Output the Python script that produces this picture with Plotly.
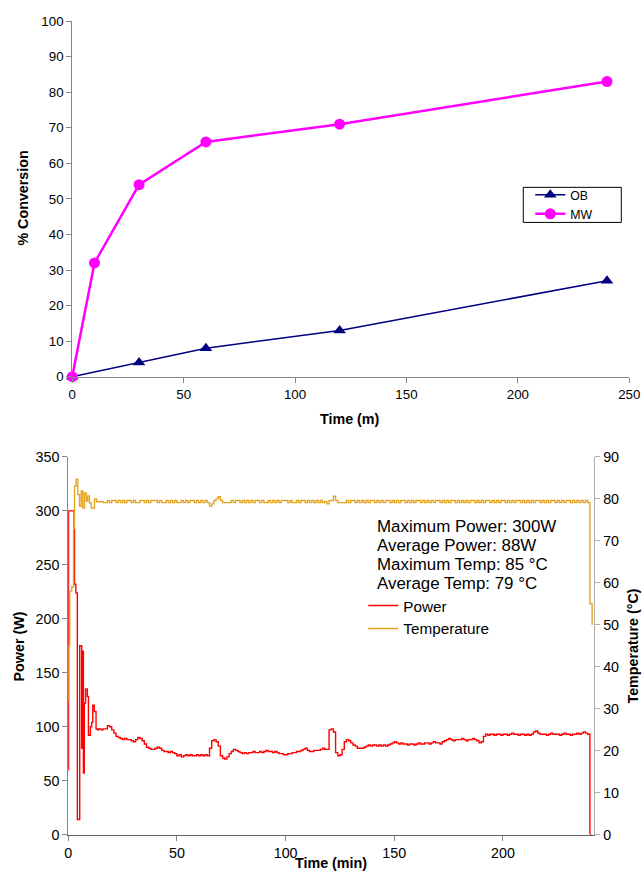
import plotly.graph_objects as go

# ---------------- Top chart data ----------------
ob_time = [0, 30, 60, 120, 240]
ob_conv = [0, 4, 8, 13, 27]
mw_time = [0, 10, 30, 60, 120, 240]
mw_conv = [0, 32, 54, 66, 71, 83]
top_x_ticks = [0, 50, 100, 150, 200, 250]
top_y_ticks = [0, 10, 20, 30, 40, 50, 60, 70, 80, 90, 100]

# ---------------- Bottom chart data ----------------
# start-up transient (min, W)
power_early_t = [0, 0.15, 2.7, 2.9, 3.5, 4.2, 5.3, 6.2, 6.5, 7.0, 7.4, 8.0, 8.8, 9.3, 10.2, 10.8, 11.3, 12.0, 12.8, 13.4]
power_early = [60, 300, 283, 232, 224, 14, 175, 80, 170, 57, 122, 135, 128, 92, 100, 104, 120, 114, 98, 97]
# one reading per minute from 14 min to 241 min (W)
power_per_min = [
    98, 97, 98, 98, 101, 100,
    97, 94, 91, 90, 89,
    88, 89, 88, 88, 87, 86, 88,
    90, 89, 87,
    84, 81, 80, 79, 79,
    80, 81, 80, 78, 77,
    77, 76, 77, 76, 75,
    73, 74, 72, 73, 74, 73, 74, 73, 73, 74, 73, 74, 73, 74, 73,
    80, 87, 88, 86, 82,
    73, 71, 70, 72, 75,
    77, 79, 78, 77, 76,
    75, 76, 75, 76, 76, 77, 76, 76, 77, 76,
    77, 78, 77, 77, 76, 77, 76, 75, 75, 74,
    74, 75, 75, 76, 76, 77, 77, 78, 79, 80,
    78, 77, 77, 78, 78, 78, 79, 80, 79, 79,
    97, 98, 95,
    76, 73, 74, 79, 86,
    88, 87, 85, 83, 82, 80, 80,
    80, 81, 82, 83, 82, 83, 83, 82, 83, 82,
    83, 82, 83, 84, 85, 86, 85, 84, 85, 84,
    84, 83, 84, 84, 83, 84, 85, 84, 84, 85,
    85, 84, 85, 86, 85, 85, 84, 86, 87, 88,
    89, 88, 87, 88, 88, 88, 89, 88, 87, 88,
    88, 89, 88, 87, 85, 86,
    91, 93, 92, 93, 93, 92, 93, 93, 92, 93,
    93, 92, 93, 94, 93, 93, 92, 93, 93, 92,
    93, 92, 93, 95, 96, 94, 93, 93, 93, 92,
    93, 94, 93, 93, 93, 92, 93, 94, 93, 93,
    92, 93, 93, 94, 93, 94, 95, 94, 93,
    0, 0,
]

temp_early_t = [0, 0.3, 0.7, 1.6, 2.45, 2.9, 3.6, 4.4, 5.2, 6.0, 6.7, 7.5, 8.3, 9.0, 9.8, 10.6, 11.3, 12.1, 13.0]
temp_early = [32, 45, 58, 59, 73, 83, 84.7, 81, 78.3, 81.9, 77.8, 81.4, 79.5, 80.7, 79.0, 77.8, 77.8, 80.0, 79.3]
# one reading per minute from 14 min to 241 min (deg C)
temp_per_min = [
    79.3, 79.3, 79.1, 79.1, 79.6, 79.1, 79.6, 79.6, 79.1, 79.6,
    79.1, 79.6, 79.1, 79.6, 79.6, 79.1, 79.6, 79.1, 79.1, 79.6,
    79.6, 79.1, 79.6, 79.1, 79.6, 79.6, 79.6, 79.1, 79.6, 79.1,
    79.1, 79.6, 79.1, 79.6, 79.1, 79.6, 79.1, 79.1, 79.6, 79.1,
    79.6, 79.1, 79.6, 79.6, 79.1, 79.6, 79.1, 79.6, 79.1, 79.6,
    79.1, 78.3, 78.8, 79.6, 80.0, 80.5, 79.6, 79.1, 79.1, 79.1,
    79.1, 79.6, 79.1, 79.6, 79.6, 79.1, 79.6, 79.1, 79.6, 79.1,
    79.6, 79.1, 79.6, 79.6, 79.1, 79.6, 79.1, 79.1, 79.6, 79.1,
    79.6, 79.1, 79.6, 79.1, 79.6, 79.6, 79.6, 79.1, 79.6, 79.1,
    79.1, 79.6, 79.1, 79.6, 79.6, 79.1, 79.6, 79.1, 79.6, 79.1,
    79.6, 79.1, 79.6, 79.1, 79.3, 78.8, 79.6, 79.6, 80.6, 79.6,
    79.1, 79.1, 79.1, 79.1, 79.6, 79.1, 79.6, 79.6, 79.1, 79.6,
    79.1, 79.6, 79.1, 79.6, 79.1, 79.6, 79.6, 79.1, 79.6, 79.1,
    79.6, 79.1, 79.6, 79.6, 79.1, 79.6, 79.1, 79.6, 79.1, 79.6,
    79.6, 79.1, 79.6, 79.1, 79.6, 79.1, 79.6, 79.6, 79.1, 79.6,
    79.1, 79.6, 79.1, 79.6, 79.1, 79.6, 79.6, 79.1, 79.6, 79.1,
    79.6, 79.1, 79.6, 79.6, 79.1, 79.6, 79.1, 79.6, 79.1, 79.6,
    79.1, 79.6, 79.6, 79.1, 79.6, 79.1, 79.6, 79.1, 79.6, 79.6,
    79.1, 79.6, 79.1, 79.6, 79.1, 79.6, 79.6, 79.1, 79.6, 79.1,
    79.6, 79.1, 79.6, 79.6, 79.1, 79.6, 79.1, 79.6, 79.1, 79.6,
    79.1, 79.6, 79.6, 79.1, 79.6, 79.1, 79.6, 79.1, 79.6, 79.6,
    79.1, 79.6, 79.1, 79.6, 79.1, 79.6, 79.6, 79.1, 79.6, 79.1,
    79.6, 79.1, 79.6, 79.1, 79.6, 79.1,
    55, 50,
]

bottom_x_ticks = [0, 50, 100, 150, 200]
power_ticks = [0, 50, 100, 150, 200, 250, 300, 350]
temp_ticks = [0, 10, 20, 30, 40, 50, 60, 70, 80, 90]

stats_lines = ["Maximum Power: 300W", "Average Power: 88W",
               "Maximum Temp: 85 \u00b0C", "Average Temp: 79 \u00b0C"]

power_t = power_early_t + list(range(14, 14 + len(power_per_min)))
power_w = power_early + power_per_min
temp_t = temp_early_t + list(range(14, 14 + len(temp_per_min)))
temp_c = temp_early + temp_per_min

# ---------------- Figure geometry ----------------
# The photographed page shows the figure slightly inset and scaled; target
# positions (in the 642x872 picture) are mapped back to figure pixels.
OX, SX = 2.8, 0.977
OY, SY = 8.0, 0.980
W = 656
H = 884
FS = 1.0 / 0.979  # font compensation
FONT = "Liberation Sans, Arial, sans-serif"


def px(x):
    return ((x - OX) / SX) / W


def py(y):
    return 1 - ((y - OY) / SY) / H


def fs(s):
    return round(s * FS, 1)


fig = go.Figure()

fig.add_trace(go.Scatter(
    x=ob_time, y=ob_conv, name="OB", mode="lines+markers",
    line=dict(color="#000080", width=1.5),
    marker=dict(symbol="triangle-up", size=11, color="#000080"),
    xaxis="x", yaxis="y", legend="legend", cliponaxis=False))
fig.add_trace(go.Scatter(
    x=mw_time, y=mw_conv, name="MW", mode="lines+markers",
    line=dict(color="#FF00FF", width=2.5),
    marker=dict(symbol="circle", size=11, color="#FF00FF"),
    xaxis="x", yaxis="y", legend="legend", cliponaxis=False))

fig.add_trace(go.Scatter(
    x=power_t, y=power_w, name="Power", mode="lines",
    line=dict(color="#FF0000", width=1.4, shape="hv"),
    xaxis="x2", yaxis="y2", legend="legend2"))
fig.add_trace(go.Scatter(
    x=temp_t, y=temp_c, name="Temperature", mode="lines",
    line=dict(color="#E6A520", width=1.4, shape="hv"),
    xaxis="x2", yaxis="y3", legend="legend2"))

axis_common = dict(showgrid=False, zeroline=False, showline=True,
                   linecolor="#868686", linewidth=1, ticks="outside",
                   ticklen=5, tickcolor="#868686",
                   tickfont=dict(family=FONT, size=fs(13), color="#000000"))

fig.update_layout(
    width=W, height=H,
    margin=dict(l=0, r=0, t=0, b=0),
    paper_bgcolor="white", plot_bgcolor="white",
    font=dict(family=FONT, color="#000000"),
    xaxis=dict(axis_common, domain=[px(71), px(628)], anchor="y",
               range=[0, 250], tickvals=top_x_ticks),
    yaxis=dict(axis_common, domain=[py(376), py(21)], anchor="x",
               range=[0, 100], tickvals=top_y_ticks),
    xaxis2=dict(axis_common, domain=[px(67), px(593)], anchor="y2",
                range=[0, 242], tickvals=bottom_x_ticks,
                linecolor="#606060",
                tickfont=dict(family=FONT, size=fs(14), color="#000000")),
    yaxis2=dict(axis_common, domain=[py(833), py(456)], anchor="x2",
                range=[0, 350], tickvals=power_ticks,
                tickfont=dict(family=FONT, size=fs(14), color="#000000")),
    yaxis3=dict(axis_common, overlaying="y2", side="right", anchor="x2",
                range=[0, 90], tickvals=temp_ticks, linecolor="#B0B0B0",
                tickcolor="#B0B0B0",
                tickfont=dict(family=FONT, size=fs(14), color="#000000")),
    legend=dict(x=px(529), y=py(180), xanchor="left", yanchor="top",
                bgcolor="rgba(0,0,0,0)", borderwidth=0,
                font=dict(family=FONT, size=fs(12), color="#000000"),
                tracegroupgap=0),
    legend2=dict(x=px(362), y=py(588), xanchor="left", yanchor="top",
                 bgcolor="rgba(0,0,0,0)", borderwidth=0,
                 font=dict(family=FONT, size=fs(15), color="#000000"),
                 tracegroupgap=0),
    shapes=[dict(type="rect", xref="paper", yref="paper",
                 x0=px(522), x1=px(620), y0=py(222), y1=py(187),
                 line=dict(color="#000000", width=1))],
)

annots = [
    dict(text="<b>% Conversion</b>", x=px(22), y=py(198), textangle=-90, size=14),
    dict(text="<b>Time (m)</b>", x=px(349), y=py(418), textangle=0, size=14),
    dict(text="<b>Power (W)</b>", x=px(18), y=py(645), textangle=-90, size=14),
    dict(text="<b>Temperature (\u00b0C)</b>", x=px(632), y=py(645), textangle=-90, size=14),
    dict(text="<b>Time (min)</b>", x=px(330), y=py(861), textangle=0, size=14),
]
for a in annots:
    fig.add_annotation(text=a["text"], x=a["x"], y=a["y"], xref="paper", yref="paper",
                       xanchor="center", yanchor="middle", showarrow=False,
                       textangle=a["textangle"],
                       font=dict(family=FONT, size=fs(a["size"]), color="#000000"))

stat_y = [525, 544, 563, 582]
for line, yy in zip(stats_lines, stat_y):
    fig.add_annotation(text=line, x=px(374), y=py(yy), xref="paper", yref="paper",
                       xanchor="left", yanchor="middle", showarrow=False,
                       font=dict(family=FONT, size=fs(16.5), color="#000000"))

fig.write_html(
    "out.html",
    config={"displayModeBar": False},
    post_script="document.documentElement.style.margin='0';"
                "document.body.style.margin='0';"
                "document.body.style.padding='0';"
                "document.body.style.overflow='hidden';",
)
